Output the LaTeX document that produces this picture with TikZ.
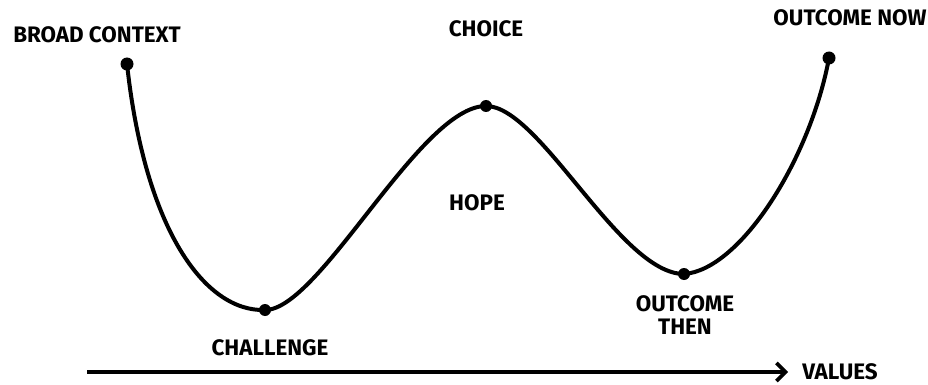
\documentclass[tikz,border=0pt]{standalone}
\usepackage{fontspec}
\setmainfont{Fira Sans}
\usetikzlibrary{arrows.meta}
\begin{document}
\begin{tikzpicture}[x=1pt,y=-1pt,
  lbl/.style={font=\fontsize{22.4}{23}\selectfont\bfseries, inner sep=0pt, align=center},
  dotnode/.style={circle, fill=black, inner sep=0pt, minimum size=12pt},
  enddot/.style={circle, fill=black, inner sep=0pt, minimum size=13pt},
  curve/.style={line width=4pt, line cap=round, line join=round},
  axis/.style={line width=3.6pt, -{Straight Barb[length=9pt,width=18pt,line width=3.6pt]}}]
\useasboundingbox (0,0) rectangle (928,385);
% dots
\node[enddot] (bc) at (127,64) {};
\node[dotnode] (ch) at (265,310) {};
\node[dotnode] (cho) at (486,106) {};
\node[dotnode] (ot) at (684,274) {};
\node[enddot] (on) at (829,58) {};
% curve
\draw[curve] (bc.center) .. controls (145,230) and (205,312) .. (ch.center)
  .. controls (320,310) and (420,106) .. (cho.center)
  .. controls (540,106) and (620,274) .. (ot.center)
  .. controls (740,270) and (810,160) .. (on.center);
% axis
\coordinate (a0) at (87,372);
\coordinate (a1) at (788,372);
\draw[axis] (a0) -- (a1);
% labels
\node[lbl] (tbc) at (97,35) {BROAD CONTEXT};
\node[lbl] (tcho) at (486,29) {CHOICE};
\node[lbl] (ton) at (850,18) {OUTCOME NOW};
\node[lbl] (thope) at (477,203) {HOPE};
\node[lbl] (tot) at (685,315) {OUTCOME\\THEN};
\node[lbl] (tch) at (270,348) {CHALLENGE};
\node[lbl] (tval) at (840,372) {VALUES};
\end{tikzpicture}
\end{document}
